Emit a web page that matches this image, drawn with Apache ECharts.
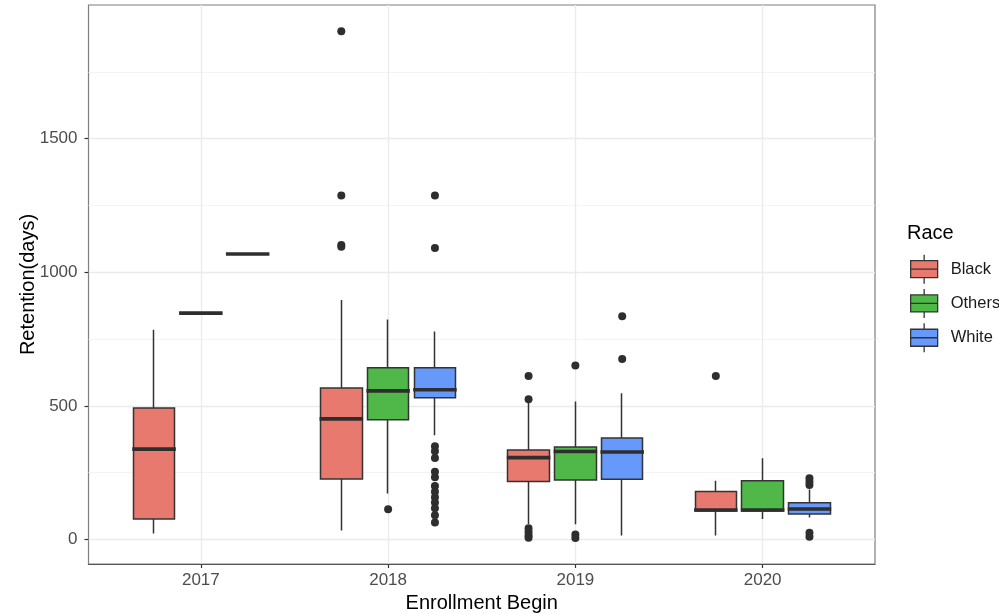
<!DOCTYPE html>
<html>
<head>
<meta charset="utf-8">
<script src="https://cdn.jsdelivr.net/npm/echarts@6/dist/echarts.min.js"></script>
<style>html,body{margin:0;padding:0;background:#fff;}#chart{width:999px;height:614px;}</style>
</head>
<body>
<div id="chart"></div>
<script>
// ---- data ----
var years = ['2017', '2018', '2019', '2020'];
var races = ['Black', 'Others', 'White'];
var yTicks = [0, 500, 1000, 1500];
var yMinorTicks = [250, 750, 1250, 1750];

// [min, Q1, median, Q3, max] per year
var blackBoxes  = [[22, 76, 338, 492, 785], [33, 226, 451, 567, 896], [58, 217, 306, 335, 512], [15, 106, 110, 179, 220]];
var othersBoxes = [[847, 847, 847, 847, 847], [172, 448, 556, 642, 823], [57, 222, 329, 346, 516], [76, 106, 110, 220, 304]];
var whiteBoxes  = [[1068, 1068, 1068, 1068, 1068], [390, 530, 560, 642, 778], [15, 225, 327, 380, 547], [82, 95, 114, 137, 187]];

// outliers per year
var blackOutliers  = [[], [1902, 1287, 1102, 1095], [612, 525, 42, 28, 15, 6], [612]];
var othersOutliers = [[], [113], [651, 18, 5], []];
var whiteOutliers  = [[], [1287, 1091, 349, 330, 305, 253, 233, 200, 178, 158, 138, 117, 90, 63], [835, 675], [229, 216, 204, 25, 10]];

var colors = ['#E8796E', '#4FB848', '#6699FA'];

// ---- build options ----
var boxesAll = [blackBoxes, othersBoxes, whiteBoxes];
var outAll = [blackOutliers, othersOutliers, whiteOutliers];
var dodge = [-0.25, 0, 0.25];
var BOXW = 42;
var FONT = 'Liberation Sans, Arial, sans-serif';
var series = [];
races.forEach(function (race, k) {
  var boxes = boxesAll[k];
  series.push({
    name: race, type: 'candlestick', barWidth: BOXW,
    encode: { x: 0, y: [1, 2, 3, 4] },
    data: boxes.map(function (b, i) { return [i + 1 + dodge[k], b[1], b[3], b[0], b[4]]; }),
    itemStyle: { color: colors[k], color0: colors[k], borderColor: '#333333', borderColor0: '#333333', borderColorDoji: '#333333', borderWidth: 1.5 },
    z: 3, silent: true
  });
  series.push({
    name: race + ' median', type: 'scatter', symbol: 'rect', symbolSize: [BOXW + 1.5, 3.6],
    data: boxes.map(function (b, i) { return [i + 1 + dodge[k], b[2]]; }),
    itemStyle: { color: '#2e2e2e', opacity: 1 }, z: 4, silent: true
  });
  var pts = [];
  outAll[k].forEach(function (list, i) { list.forEach(function (v) { pts.push([i + 1 + dodge[k], v]); }); });
  series.push({
    name: race + ' outliers', type: 'scatter', symbol: 'circle', symbolSize: 8,
    data: pts, itemStyle: { color: '#2e2e2e', opacity: 1 }, z: 5, silent: true
  });
});

var legendIcon = 'path://M0,6H27V23H0Z M0,14.5H27 M13.5,0V6 M13.5,23V29';

var option = {
  animation: false,
  backgroundColor: '#ffffff',
  title: { text: 'Race', left: 902, top: 218, textStyle: { fontSize: 20, fontWeight: 'normal', color: '#000', fontFamily: FONT } },
  legend: {
    orient: 'vertical', left: 905, top: 249, itemWidth: 27, itemHeight: 29, itemGap: 4,
    selectedMode: false,
    textStyle: { fontSize: 16.5, color: '#1a1a1a', fontFamily: FONT, padding: [0, 0, 0, 8] },
    data: races.map(function (r, k) {
      return { name: r, icon: legendIcon, itemStyle: { color: colors[k], borderColor: '#333333', borderWidth: 1.3 } };
    })
  },
  grid: { left: 88.5, right: 124, top: 5, bottom: 50, outerBoundsMode: 'none', containLabel: false, show: true, borderColor: '#7f7f7f', borderWidth: 1.2, backgroundColor: '#ffffff' },
  xAxis: [{
    type: 'value', min: 0.4, max: 4.6,
    axisLine: { show: true, onZero: false, lineStyle: { color: '#555555', width: 1.2 } },
    axisTick: { show: true, customValues: [1, 2, 3, 4], length: 4, lineStyle: { color: '#333333', width: 1.2 } },
    axisLabel: { customValues: [1, 2, 3, 4], formatter: function (v) { return years[Math.round(v) - 1]; }, color: '#4d4d4d', fontSize: 17, margin: 8, fontFamily: FONT },
    splitLine: { show: true, lineStyle: { color: '#ebebeb', width: 1.3 } },
    name: 'Enrollment Begin', nameLocation: 'middle', nameGap: 29, nameMoveOverlap: false,
    nameTextStyle: { fontSize: 20, color: '#000', fontFamily: FONT }
  }],
  yAxis: [{
    type: 'value', min: -92, max: 2000,
    axisLine: { show: false, onZero: false },
    axisTick: { show: true, customValues: yTicks, length: 4, lineStyle: { color: '#333333', width: 1.2 } },
    axisLabel: { customValues: yTicks, formatter: function (v) { return String(v); }, color: '#4d4d4d', fontSize: 17, margin: 11, fontFamily: FONT },
    splitLine: { show: true, lineStyle: { color: '#ebebeb', width: 1.3 } },
    name: 'Retention(days)', nameLocation: 'middle', nameGap: 50, nameRotate: 90, nameMoveOverlap: false,
    nameTextStyle: { fontSize: 20, color: '#000', fontFamily: FONT }
  }, {
    type: 'value', min: -92, max: 2000, position: 'left',
    axisLine: { show: false }, axisLabel: { show: false },
    axisTick: { show: false, customValues: yMinorTicks },
    splitLine: { show: true, lineStyle: { color: '#f1f1f1', width: 0.8 } }
  }],
  series: series
};

var chart = echarts.init(document.getElementById('chart'), null, { renderer: 'canvas' });
chart.setOption(option);
</script>
</body>
</html>
